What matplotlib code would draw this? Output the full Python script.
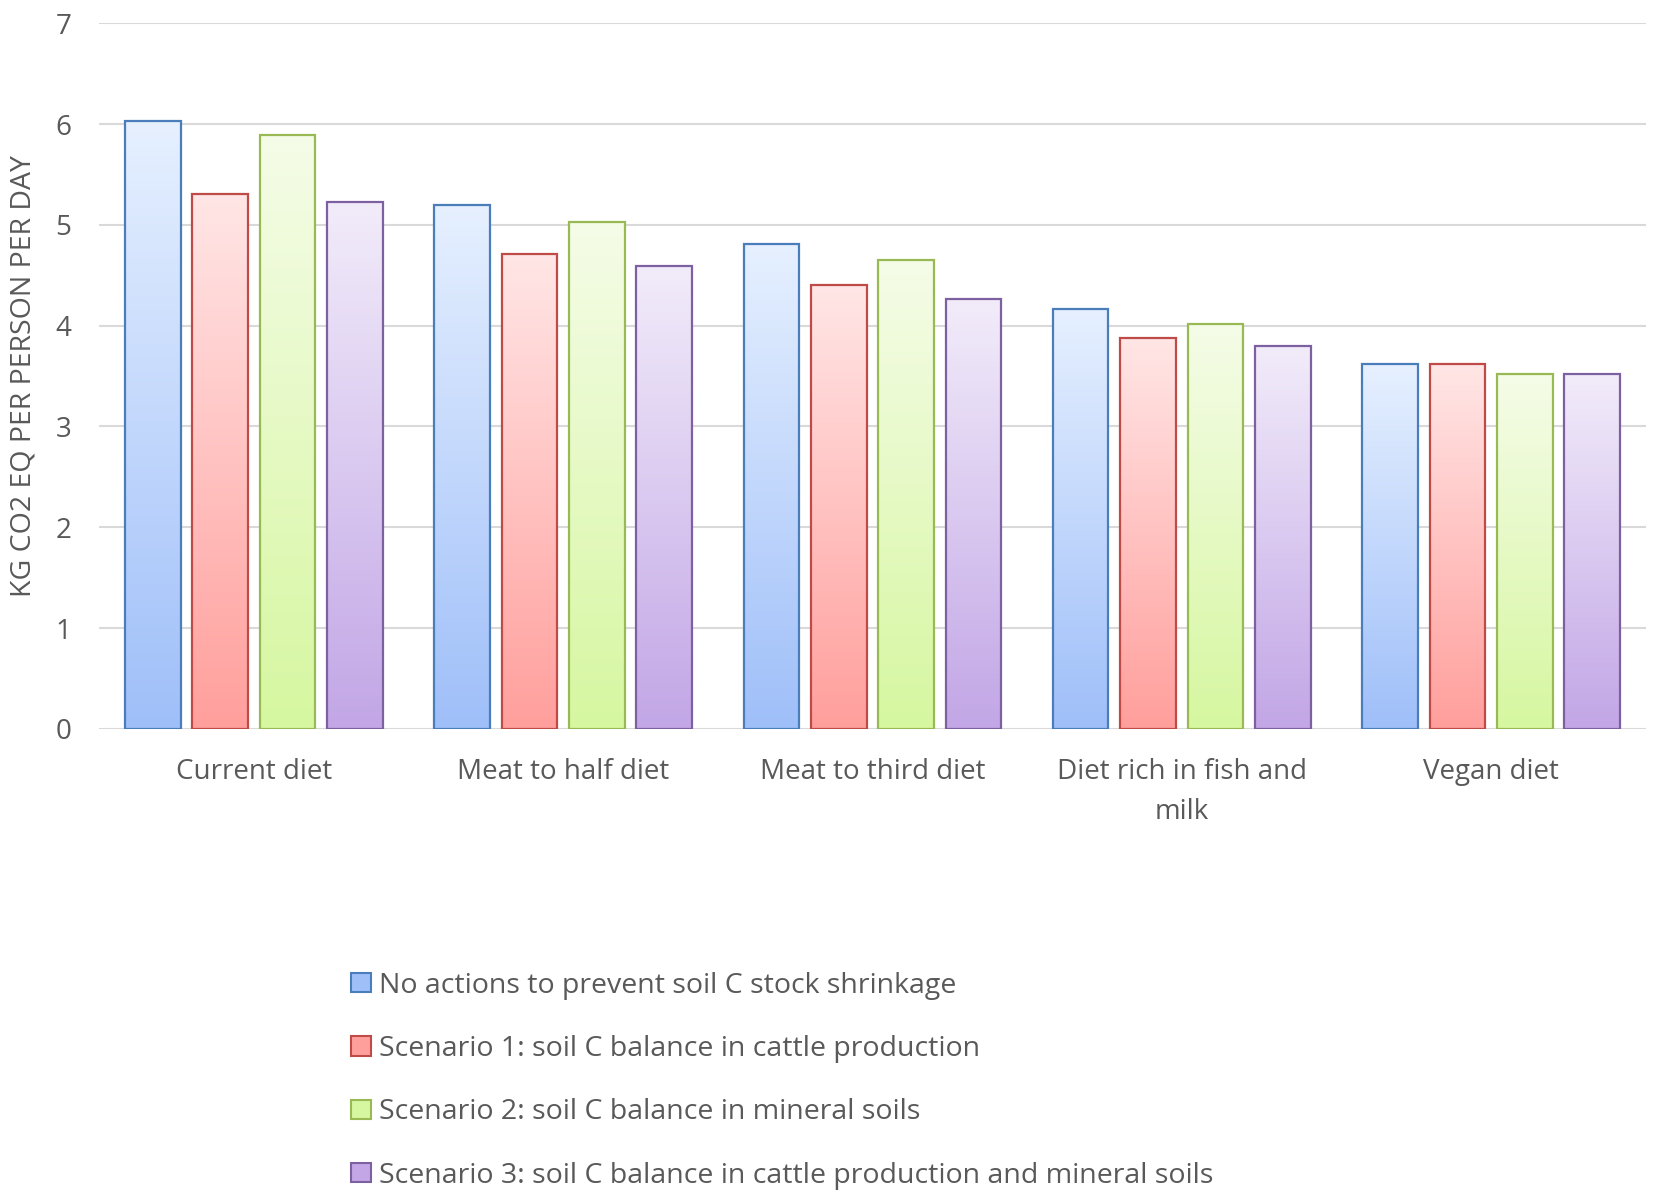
import numpy as np
import matplotlib
matplotlib.use("Agg")
import matplotlib.pyplot as plt
from matplotlib.patches import Patch
from matplotlib.colors import LinearSegmentedColormap

plt.rcParams['font.family'] = ['Open Sans', 'DejaVu Sans']

categories = ["Current diet", "Meat to half diet", "Meat to third diet",
              "Diet rich in fish and\nmilk", "Vegan diet"]
series_names = ["No actions to prevent soil C stock shrinkage",
                "Scenario 1: soil C balance in cattle production",
                "Scenario 2: soil C balance in mineral soils",
                "Scenario 3: soil C balance in cattle production and mineral soils"]
no_action = [6.03, 5.20, 4.81, 4.17, 3.62]
scenario1 = [5.31, 4.71, 4.40, 3.88, 3.62]
scenario2 = [5.89, 5.03, 4.65, 4.02, 3.52]
scenario3 = [5.23, 4.59, 4.26, 3.80, 3.52]
yticks = [0, 1, 2, 3, 4, 5, 6, 7]

series = [no_action, scenario1, scenario2, scenario3]
edge_colors = ["#4a7ebb", "#be4b48", "#98b954", "#7d60a0"]
top_colors = ["#e6f0ff", "#ffe6e6", "#f5fce8", "#f2ecfa"]
bottom_colors = ["#9fbff9", "#ff9f9c", "#d6f7a0", "#c2a6e6"]

fig = plt.figure(figsize=(16.54, 11.93), dpi=100)
ax = fig.add_axes([0.060, 0.389, 0.935, 0.5915])

x = np.arange(len(categories))
step = 0.218
width = 0.18
grey = "#595959"

for i, vals in enumerate(series):
    offs = (i - 1.5) * step
    bars = ax.bar(x + offs, vals, width, facecolor="none",
                  edgecolor=edge_colors[i], linewidth=1.6, zorder=3)
    cmap = LinearSegmentedColormap.from_list("g%d" % i, [bottom_colors[i], top_colors[i]])
    grad = np.linspace(0, 1, 256).reshape(-1, 1)
    for b in bars:
        bx, bw, bh = b.get_x(), b.get_width(), b.get_height()
        im = ax.imshow(grad, cmap=cmap, aspect="auto", origin="lower",
                       extent=(bx, bx + bw, 0, bh), zorder=2)
        im.set_clip_path(b)

ax.set_xlim(-0.5, len(categories) - 0.5)
ax.set_ylim(0, 7)
ax.set_yticks(yticks)
ax.set_yticklabels([str(t) for t in yticks])
ax.set_xticks(x)
ax.set_xticklabels(categories, linespacing=1.55)
ax.tick_params(axis="both", length=0, colors=grey, labelsize=20)
ax.tick_params(axis="x", pad=21)
ax.tick_params(axis="y", pad=20)
ax.yaxis.grid(True, color="#d9d9d9", linewidth=1.5, zorder=0)
ax.set_axisbelow(True)
for s in ax.spines.values():
    s.set_visible(False)
ax.set_ylabel("KG CO2 EQ PER PERSON PER DAY", color=grey, fontsize=20.5, labelpad=13)

handles = [Patch(facecolor=bottom_colors[i], edgecolor=edge_colors[i], linewidth=1.5)
           for i in range(4)]
leg = fig.legend(handles, series_names, loc="upper left",
                 bbox_to_anchor=(0.197, 0.207), frameon=False, fontsize=20.5,
                 handlelength=0.68, handleheight=0.68, handletextpad=0.3,
                 labelspacing=1.24, labelcolor=grey)

fig.savefig("out.png", dpi=100, facecolor="white")
